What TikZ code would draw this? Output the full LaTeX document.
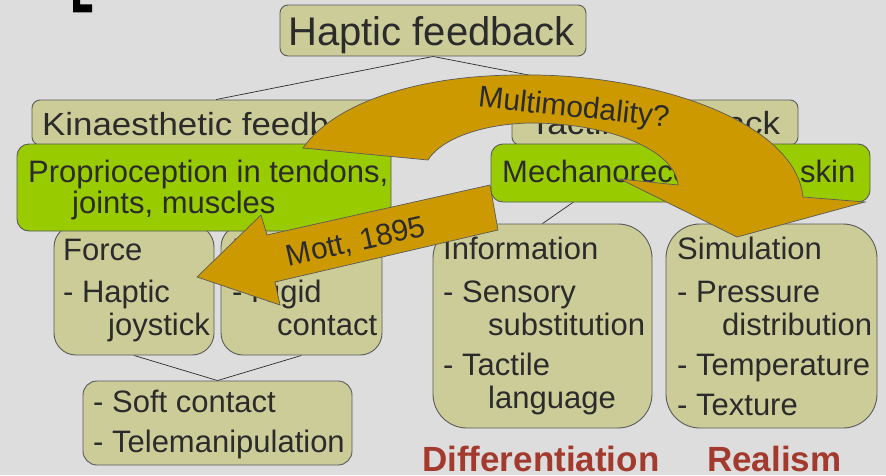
\documentclass[tikz,border=0pt]{standalone}
\usepackage{fontspec}
\setmainfont{Liberation Sans}
\usepackage{tikz}
\usetikzlibrary{positioning,backgrounds}
\usepackage{xcolor}
\definecolor{paper}{HTML}{DDDDDD}
\definecolor{khaki}{HTML}{CCCC99}
\definecolor{lime}{HTML}{99CC00}
\definecolor{gold}{HTML}{CC9900}
\definecolor{ink}{HTML}{2B2B2B}
\definecolor{rim}{HTML}{5A5A5A}
\definecolor{brick}{HTML}{A33A2E}
\newcommand{\subind}{\hspace*{45pt}}
\tikzset{
  tbox/.style={draw=rim,fill=khaki,line width=0.9pt,inner sep=0pt,rounded corners=8pt},
  gbox/.style={tbox,fill=lime,rounded corners=12pt},
  txt/.style={anchor=base west,inner sep=0pt,text=ink,font=\fontsize{31}{33}\selectfont},
  head/.style={txt,font=\fontsize{32}{32}\selectfont\addfontfeature{FakeStretch=1.09}},
  link/.style={draw=ink,line width=0.7pt},
  bigarrow/.style={draw=rim,fill=gold,line width=0.7pt},
  tag/.style={anchor=base,inner sep=0pt,text=ink,font=\fontsize{30}{30}\selectfont},
  goal/.style={anchor=base west,inner sep=0pt,text=brick,font=\fontsize{35}{35}\selectfont\bfseries},
}

\begin{document}
\begin{tikzpicture}[x=1pt,y=-1pt]
  \useasboundingbox (0,0) rectangle (886,475);
  \fill[black] (73,0) -- (80,0) -- (80,4.3) -- (92,4.3) -- (92,12.3) -- (73,12.3) -- cycle;

  \node[tbox,minimum width=306pt,minimum height=51pt] (haptic) at (433,30.5) {};
  \node[tbox,minimum width=368pt,minimum height=45pt] (kin)    at (216,122.5) {};
  \node[tbox,minimum width=286pt,minimum height=45pt] (tact)   at (655,122.5) {};
  \node[tbox,minimum width=160pt,minimum height=130pt,rounded corners=22pt] (force) at (134,290) {};
  \node[tbox,minimum width=161pt,minimum height=130pt,rounded corners=22pt] (posit) at (301.5,290) {};
  \node[tbox,minimum width=269pt,minimum height=84pt,rounded corners=14pt]  (soft)  at (217.5,423) {};
  \node[tbox,minimum width=219pt,minimum height=204pt,rounded corners=34pt] (info)  at (542.5,326) {};
  \node[tbox,minimum width=211pt,minimum height=204pt,rounded corners=34pt] (simu)  at (771.5,326) {};
  \node[gbox,minimum width=374pt,minimum height=87pt] (prop) at (204,187.5) {};
  \node[gbox,minimum width=379pt,minimum height=58pt] (mech) at (680.5,173) {};

  \begin{pgfonlayer}{background}
    \fill[paper] (0,0) rectangle (886,475);
    \draw[link] (haptic.south) -- (kin.north);
    \draw[link] (haptic.south) -- (tact.north);
    \draw[link] (kin.south) -- (force.north);
    \draw[link] (kin.south) -- (posit.north);
    \draw[link] (tact.south) -- (info.north);
    \draw[link] (tact.south) -- (simu.north);
    \draw[link] (force.south) -- (soft.north);
    \draw[link] (posit.south) -- (soft.north);
  \end{pgfonlayer}

  \node[txt,font=\fontsize{40}{40}\selectfont] (haptic-t) at (288,45) {Haptic feedback};
  \node[head] (kin-t) at (42,135) {Kinaesthetic feedback};
  \node[head,anchor=base] (tact-t) at (655,134) {Tactile feedback};
  \node[txt,font=\fontsize{31}{31}\selectfont] (prop-t) at (28,182)
    {\begin{tabular}[t]{@{}l@{}}Proprioception in tendons,\\\hspace*{44pt}joints, muscles\end{tabular}};
  \node[txt] (mech-t) at (502,182) {Mechanoreceptors in skin};
  \node[txt] (force-t) at (63,260)
    {\begin{tabular}[t]{@{}l@{}}Force\\[9pt]- Haptic\\\subind joystick\end{tabular}};
  \node[txt] (posit-t) at (232,260)
    {\begin{tabular}[t]{@{}l@{}}Position\\[9pt]- Rigid\\\subind contact\end{tabular}};
  \node[txt] (soft-t) at (93,412)
    {\begin{tabular}[t]{@{}l@{}}- Soft contact\\[7pt]- Telemanipulation\end{tabular}};
  \node[txt] (info-t) at (443,259)
    {\begin{tabular}[t]{@{}l@{}}Information\\[10pt]- Sensory\\\subind substitution\\[7pt]- Tactile\\\subind language\end{tabular}};
  \node[txt] (simu-t) at (677,259)
    {\begin{tabular}[t]{@{}l@{}}Simulation\\[10pt]- Pressure\\\subind distribution\\[7pt]- Temperature\\[7pt]- Texture\end{tabular}};
  \node[goal] (diff) at (422,471) {Differentiation};
  \node[goal] (real) at (707,471) {Realism};

  % curved arrow over both branches
  \draw[bigarrow] (303,148) .. controls (335,102) and (420,75) .. (520,75)
    .. controls (650,73) and (795,120) .. (803,197)
    -- (865,202) -- (737,237) -- (620,179) -- (678,185)
    .. controls (675,150) and (610,123) .. (530,123)
    .. controls (480,124) and (440,140) .. (428,160) -- cycle;
  \node[tag,rotate=-6] (multi) at (573,117) {Multimodality?};

  \draw[bigarrow] (490,185) -- (498,230) -- (275,282) -- (280,305) -- (197,277)
    -- (261,215) -- (267,235) -- cycle;
  \node[tag,rotate=12.5] (mott) at (358,251) {Mott, 1895};
\end{tikzpicture}
\end{document}
